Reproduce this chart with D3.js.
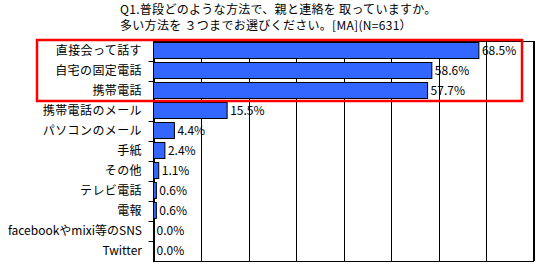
<!DOCTYPE html>
<html>
<head>
<meta charset="utf-8">
<script src="https://cdn.jsdelivr.net/npm/d3@7"></script>
<style>
  body { margin: 0; background: #fff; }
  text { font-family: "Noto Sans CJK JP", sans-serif; fill: #000; }
</style>
</head>
<body>
<svg id="chart" width="540" height="271"></svg>
<script>
/*
Title lines */
var title_lines = ["Q1.普段どのような方法で、親と連絡を 取っていますか。",
                   "多い方法を ３つまでお選びください。[MA](N=631）"];
/*
Categories, top to bottom */
var categories = ["直接会って話す", "自宅の固定電話", "携帯電話", "携帯電話のメール",
                  "パソコンのメール", "手紙", "その他", "テレビ電話", "電報",
                  "facebookやmixi等のSNS", "Twitter"];
/*
Percent of respondents */
var values = [68.5, 58.6, 57.7, 15.5, 4.4, 2.4, 1.1, 0.6, 0.6, 0.0, 0.0];
/*
Grid ticks on x */
var grid_ticks = [0, 10, 20, 30, 40, 50, 60, 70, 80];
/*
How many top rows are boxed in red */
var highlighted = 3;

var svg = d3.select("#chart");
var plot_left = 153.5, plot_right = 533.5, plot_top = 41, plot_bottom = 261;

var x = d3.scaleLinear().domain([0, 80]).range([plot_left, plot_right]);
var y = d3.scaleBand().domain(categories).range([plot_top, plot_bottom])
          .paddingInner(0.2).paddingOuter(0.1);
var step = y.step();

// title
svg.selectAll(".title")
   .data(title_lines)
   .enter().append("text")
   .attr("x", 120)
   .attr("y", function(d, i) { return 14 + i * 16; })
   .attr("font-size", "12px")
   .attr("letter-spacing", "0.3px")
   .text(function(d) { return d; });

// grid lines
svg.selectAll(".grid")
   .data(grid_ticks)
   .enter().append("line")
   .attr("x1", function(d) { return Math.round(x(d)) + 0.5; })
   .attr("x2", function(d) { return Math.round(x(d)) + 0.5; })
   .attr("y1", plot_top).attr("y2", plot_bottom)
   .attr("stroke", "#000").attr("stroke-width", 1);

// plot border
svg.append("rect")
   .attr("x", plot_left).attr("y", plot_top + 0.5)
   .attr("width", plot_right - plot_left).attr("height", plot_bottom - plot_top)
   .attr("fill", "none").attr("stroke", "#000").attr("stroke-width", 1);

// category ticks at band boundaries
svg.selectAll(".ytick")
   .data(d3.range(1, categories.length))
   .enter().append("line")
   .attr("x1", plot_left - 5).attr("x2", plot_left)
   .attr("y1", function(i) { return plot_top + i * step + 0.5; })
   .attr("y2", function(i) { return plot_top + i * step + 0.5; })
   .attr("stroke", "#000");

// bars (zero values drawn as nothing)
svg.selectAll(".bar")
   .data(values)
   .enter().append("rect")
   .attr("x", x(0))
   .attr("y", function(d, i) { return y(categories[i]) - 0.5; })
   .attr("width", function(d) { return x(d) - x(0); })
   .attr("height", y.bandwidth())
   .attr("fill", "#3366ff")
   .attr("stroke", function(d) { return d > 0 ? "#000" : "none"; })
   .attr("stroke-width", 1);

// category labels
svg.selectAll(".label")
   .data(categories)
   .enter().append("text")
   .attr("x", 142)
   .attr("y", function(d) { return y(d) + y.bandwidth() / 2; })
   .attr("dy", "0.35em")
   .attr("text-anchor", "end")
   .attr("font-size", "12px")
   .attr("letter-spacing", function(d) { return /^[a-zA-Z]/.test(d) ? "0px" : "0.4px"; })
   .text(function(d) { return d; });

// value labels
svg.selectAll(".value")
   .data(values)
   .enter().append("text")
   .attr("x", function(d) { return x(d) + 3; })
   .attr("y", function(d, i) { return y(categories[i]) + y.bandwidth() / 2; })
   .attr("dy", "0.35em")
   .attr("font-size", "12px")
   .text(function(d) { return d.toFixed(1) + "%"; });

// red highlight box
svg.append("rect")
   .attr("x", 37).attr("y", 40)
   .attr("width", 522 - 37).attr("height", plot_top + highlighted * step - 40)
   .attr("fill", "none").attr("stroke", "#ff0000").attr("stroke-width", 2.5);
</script>
</body>
</html>
